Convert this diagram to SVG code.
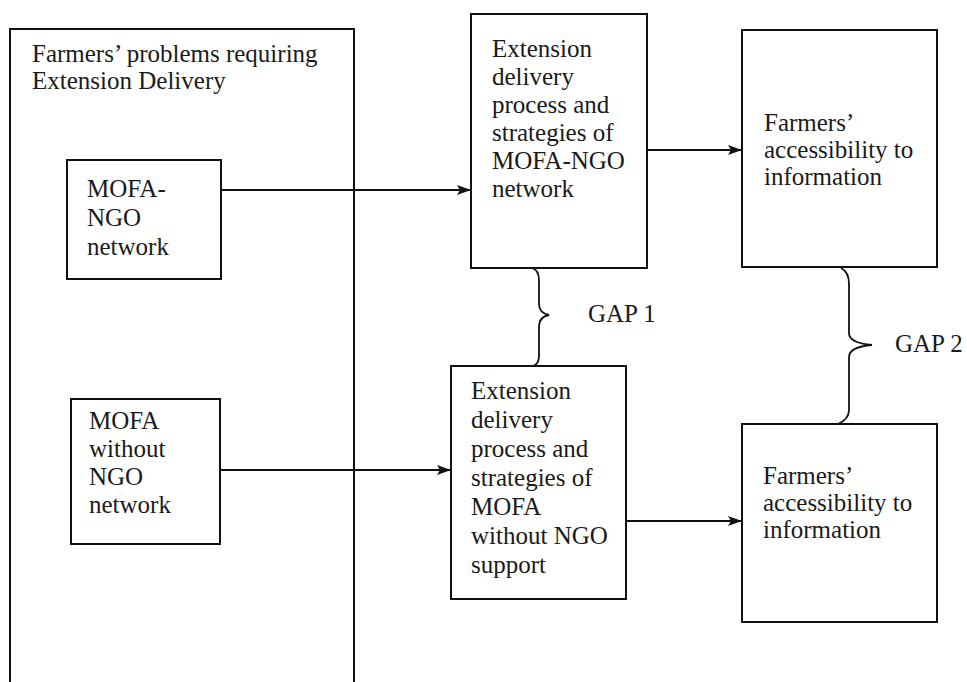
<svg xmlns="http://www.w3.org/2000/svg" width="967" height="682" viewBox="0 0 967 682">
<defs>
<marker id="ah" markerWidth="14" markerHeight="10" refX="13" refY="5" orient="auto" markerUnits="userSpaceOnUse">
<path d="M0,0 L14,5 L0,10 L3,5 Z" fill="#111"/>
</marker>
<style>
.box{fill:none;stroke:#111;stroke-width:2}
.t{font-family:"Liberation Serif","Times New Roman",serif;font-size:25px;fill:#1a1a1a}
.c{fill:none;stroke:#111;stroke-width:2}
.br{fill:none;stroke:#111;stroke-width:1.8}
</style>
</defs>
<rect width="967" height="682" fill="#fff"/>
<g id="problems">
<rect class="box" x="10" y="29" width="344" height="670"/>
<text class="t" x="32" y="62">Farmers’ problems requiring</text>
<text class="t" x="32" y="89">Extension Delivery</text>
</g>
<g id="mofa-ngo">
<rect class="box" x="67" y="160" width="154" height="119"/>
<text class="t" x="87" y="197">MOFA-</text>
<text class="t" x="87" y="226">NGO</text>
<text class="t" x="87" y="255">network</text>
</g>
<g id="mofa">
<rect class="box" x="71" y="399" width="149" height="145"/>
<text class="t" x="89" y="429">MOFA</text>
<text class="t" x="89" y="457">without</text>
<text class="t" x="89" y="485">NGO</text>
<text class="t" x="89" y="513">network</text>
</g>
<g id="process-ngo">
<rect class="box" x="471" y="14" width="176" height="254"/>
<text class="t" x="492" y="57">Extension</text>
<text class="t" x="492" y="85">delivery</text>
<text class="t" x="492" y="113">process and</text>
<text class="t" x="492" y="141">strategies of</text>
<text class="t" x="492" y="169">MOFA-NGO</text>
<text class="t" x="492" y="197">network</text>
</g>
<g id="process-mofa">
<rect class="box" x="451" y="366" width="175" height="233"/>
<text class="t" x="471" y="399">Extension</text>
<text class="t" x="471" y="428">delivery</text>
<text class="t" x="471" y="457">process and</text>
<text class="t" x="471" y="486">strategies of</text>
<text class="t" x="471" y="515">MOFA</text>
<text class="t" x="471" y="544">without NGO</text>
<text class="t" x="471" y="573">support</text>
</g>
<g id="access-ngo">
<rect class="box" x="742" y="30" width="195" height="237"/>
<text class="t" x="764" y="131">Farmers’</text>
<text class="t" x="764" y="158">accessibility to</text>
<text class="t" x="764" y="185">information</text>
</g>
<g id="access-mofa">
<rect class="box" x="742" y="424" width="195" height="198"/>
<text class="t" x="763" y="484">Farmers’</text>
<text class="t" x="763" y="511">accessibility to</text>
<text class="t" x="763" y="538">information</text>
</g>
<g id="gap1">
<path class="br" d="M532,268 Q539,270 539,280 L539,304 Q539,313 549,315 Q539,317 539,326 L539,356 Q539,364 533,366"/>
<text class="t" x="588" y="322">GAP 1</text>
</g>
<g id="gap2">
<path class="br" d="M841,268 Q849,272 849,284 L849,333 Q849,343 872,345 Q849,347 849,357 L849,410 Q849,419 838,424"/>
<text class="t" x="895" y="352">GAP 2</text>
</g>
<g id="connectors">
<line class="c" x1="221" y1="190" x2="470" y2="190" marker-end="url(#ah)"/>
<line class="c" x1="647" y1="150" x2="741" y2="150" marker-end="url(#ah)"/>
<line class="c" x1="220" y1="470" x2="450" y2="470" marker-end="url(#ah)"/>
<line class="c" x1="626" y1="521" x2="741" y2="521" marker-end="url(#ah)"/>
</g>
</svg>
